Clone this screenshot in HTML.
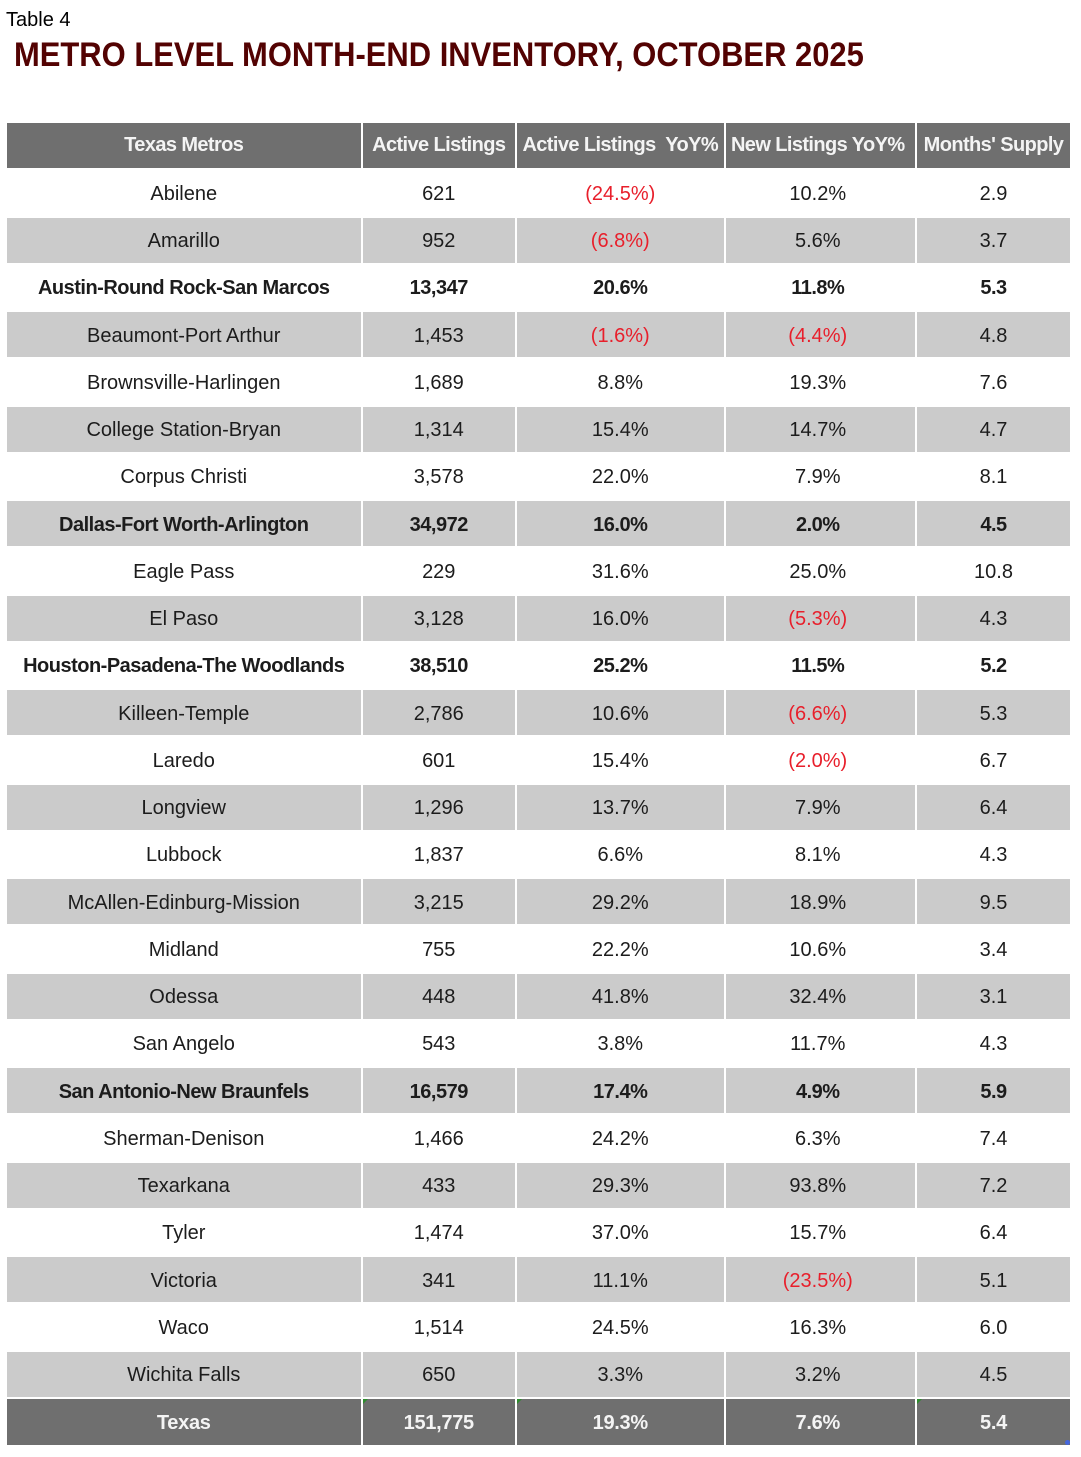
<!DOCTYPE html>
<html><head><meta charset="utf-8">
<style>
*{margin:0;padding:0;box-sizing:border-box}
html,body{width:1081px;height:1457px;background:#fff;overflow:hidden}
body{position:relative;font-family:"Liberation Sans",Arial,sans-serif;color:#1c1c1c}
.cap{position:absolute;left:6px;top:10px;font-size:20px;line-height:20px;color:#000}
.title{position:absolute;left:14px;top:38px;font-size:34px;line-height:34px;font-weight:bold;color:#530202;white-space:nowrap;transform:scaleX(0.91);transform-origin:0 0}
.r{position:absolute;left:0;width:1081px;height:45px}
.r>div{position:absolute;top:0;height:100%;display:flex;align-items:center;justify-content:center;font-size:20px;white-space:nowrap;padding-top:3px}
.r>div:nth-child(1){left:7px;width:353.5px}
.r>div:nth-child(2){left:362.5px;width:152.5px}
.r>div:nth-child(3){left:517px;width:206.5px}
.r>div:nth-child(4){left:725.5px;width:189.5px;padding-right:5px}
.r>div:nth-child(5){left:917px;width:153px}
.g>div{background:#cbcbcb}
.b>div{font-weight:bold;letter-spacing:-0.5px}
.h{height:44.5px}
.h>div,.t>div{background:#6f6f6f;color:#f4f4f4;font-weight:bold;letter-spacing:-0.6px}
.h>div{padding-top:1px}
.t{height:46.5px}
.t>div{letter-spacing:-0.3px}
.red{color:#e81f2b}
.tri{position:absolute;left:0;top:0;width:0;height:0;border-top:5px solid #2e8b2e;border-right:5px solid transparent}
.dot{position:absolute;right:0;bottom:0;width:5px;height:5px;border-radius:50%;background:#4466dd}
</style></head><body>
<div class="cap">Table 4</div>
<div class="title">METRO LEVEL MONTH-END INVENTORY, OCTOBER 2025</div>

<div class="r h" style="top:123px"><div>Texas Metros</div><div>Active Listings</div><div>Active Listings&nbsp; YoY%</div><div>New Listings YoY%</div><div>Months' Supply</div></div>

<div class="r" style="top:170.25px"><div>Abilene</div><div>621</div><div class="red">(24.5%)</div><div>10.2%</div><div>2.9</div></div>
<div class="r g" style="top:217.5px"><div>Amarillo</div><div>952</div><div class="red">(6.8%)</div><div>5.6%</div><div>3.7</div></div>
<div class="r b" style="top:264.75px"><div>Austin-Round Rock-San Marcos</div><div>13,347</div><div>20.6%</div><div>11.8%</div><div>5.3</div></div>
<div class="r g" style="top:312px"><div>Beaumont-Port Arthur</div><div>1,453</div><div class="red">(1.6%)</div><div class="red">(4.4%)</div><div>4.8</div></div>
<div class="r" style="top:359.25px"><div>Brownsville-Harlingen</div><div>1,689</div><div>8.8%</div><div>19.3%</div><div>7.6</div></div>
<div class="r g" style="top:406.5px"><div>College Station-Bryan</div><div>1,314</div><div>15.4%</div><div>14.7%</div><div>4.7</div></div>
<div class="r" style="top:453.75px"><div>Corpus Christi</div><div>3,578</div><div>22.0%</div><div>7.9%</div><div>8.1</div></div>
<div class="r g b" style="top:501px"><div>Dallas-Fort Worth-Arlington</div><div>34,972</div><div>16.0%</div><div>2.0%</div><div>4.5</div></div>
<div class="r" style="top:548.25px"><div>Eagle Pass</div><div>229</div><div>31.6%</div><div>25.0%</div><div>10.8</div></div>
<div class="r g" style="top:595.5px"><div>El Paso</div><div>3,128</div><div>16.0%</div><div class="red">(5.3%)</div><div>4.3</div></div>
<div class="r b" style="top:642.75px"><div>Houston-Pasadena-The Woodlands</div><div>38,510</div><div>25.2%</div><div>11.5%</div><div>5.2</div></div>
<div class="r g" style="top:690px"><div>Killeen-Temple</div><div>2,786</div><div>10.6%</div><div class="red">(6.6%)</div><div>5.3</div></div>
<div class="r" style="top:737.25px"><div>Laredo</div><div>601</div><div>15.4%</div><div class="red">(2.0%)</div><div>6.7</div></div>
<div class="r g" style="top:784.5px"><div>Longview</div><div>1,296</div><div>13.7%</div><div>7.9%</div><div>6.4</div></div>
<div class="r" style="top:831.75px"><div>Lubbock</div><div>1,837</div><div>6.6%</div><div>8.1%</div><div>4.3</div></div>
<div class="r g" style="top:879px"><div>McAllen-Edinburg-Mission</div><div>3,215</div><div>29.2%</div><div>18.9%</div><div>9.5</div></div>
<div class="r" style="top:926.25px"><div>Midland</div><div>755</div><div>22.2%</div><div>10.6%</div><div>3.4</div></div>
<div class="r g" style="top:973.5px"><div>Odessa</div><div>448</div><div>41.8%</div><div>32.4%</div><div>3.1</div></div>
<div class="r" style="top:1020.75px"><div>San Angelo</div><div>543</div><div>3.8%</div><div>11.7%</div><div>4.3</div></div>
<div class="r g b" style="top:1068px"><div>San Antonio-New Braunfels</div><div>16,579</div><div>17.4%</div><div>4.9%</div><div>5.9</div></div>
<div class="r" style="top:1115.25px"><div>Sherman-Denison</div><div>1,466</div><div>24.2%</div><div>6.3%</div><div>7.4</div></div>
<div class="r g" style="top:1162.5px"><div>Texarkana</div><div>433</div><div>29.3%</div><div>93.8%</div><div>7.2</div></div>
<div class="r" style="top:1209.75px"><div>Tyler</div><div>1,474</div><div>37.0%</div><div>15.7%</div><div>6.4</div></div>
<div class="r g" style="top:1257px"><div>Victoria</div><div>341</div><div>11.1%</div><div class="red">(23.5%)</div><div>5.1</div></div>
<div class="r" style="top:1304.25px"><div>Waco</div><div>1,514</div><div>24.5%</div><div>16.3%</div><div>6.0</div></div>
<div class="r g" style="top:1351.5px"><div>Wichita Falls</div><div>650</div><div>3.3%</div><div>3.2%</div><div>4.5</div></div>
<div class="r t" style="top:1398.75px"><div>Texas</div><div><span class="tri"></span>151,775</div><div><span class="tri"></span>19.3%</div><div>7.6%</div><div><span class="tri"></span>5.4<span class="dot"></span></div></div>
</body></html>
